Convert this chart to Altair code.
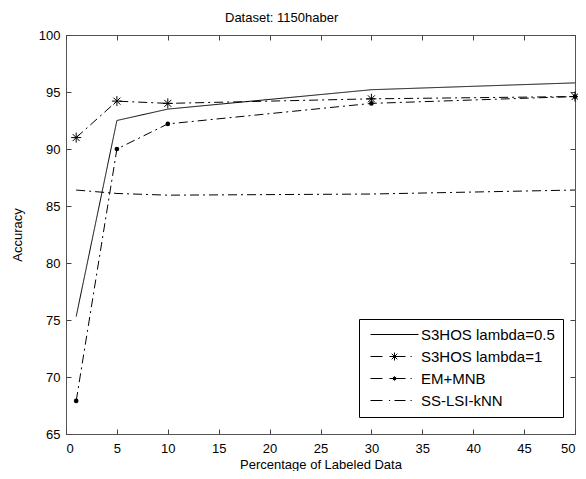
import altair as alt
import pandas as pd

# ---- data ----
x_vals = [1, 5, 10, 30, 50]
s3hos_05 = [75.3, 92.5, 93.5, 95.2, 95.8]
s3hos_1 = [91.0, 94.2, 94.0, 94.4, 94.6]
em_mnb = [67.9, 90.0, 92.2, 94.0, 94.6]
ss_lsi = [86.4, 86.1, 85.95, 86.05, 86.4]
series = ["S3HOS lambda=0.5", "S3HOS lambda=1", "EM+MNB", "SS-LSI-kNN"]
x_ticks = list(range(0, 51, 5))
y_ticks = list(range(65, 101, 5))

rows = []
for name, vals in zip(series, [s3hos_05, s3hos_1, em_mnb, ss_lsi]):
    for xv, yv in zip(x_vals, vals):
        rows.append({"x": xv, "acc": yv, "series": name})
df = pd.DataFrame(rows)

FONT = "Liberation Sans"
DASHDOT = [9, 4, 2, 4]
STAR = "M-1,0H1M0,-1V1M-0.7,-0.7L0.7,0.7M-0.7,0.7L0.7,-0.7"

# legend glyphs (line + marker), in symbol units (1 unit = 4px at size 64)
leg_solid = "M-1,0H11"
leg_star = "M-1,0H2M3.75,0H7.75M9,0H9.3M4,0H6M5,-1V1M4.3,-0.7L5.7,0.7M4.3,0.7L5.7,-0.7"
leg_dot = ("M-1,0H2M3.75,0H7.75M9,0H9.3"
           "M4.45,0H5.55M5,-0.55V0.55M4.6,-0.4L5.4,0.4M4.6,0.4L5.4,-0.4")
leg_dd = "M-1,0H2M3.6,0H3.9M5,0H7.75M9,0H9.3"
legend_shapes = [leg_solid, leg_star, leg_dot, leg_dd]

# dash scale uses reversed order so it is kept apart from the legend's scale
dash_domain = series[::-1]
dash_range = [DASHDOT, DASHDOT, DASHDOT, [1, 0]]

xscale = alt.Scale(domain=[0, 50], nice=False)
yscale = alt.Scale(domain=[65, 100], nice=False)

x_axis = alt.Axis(values=x_ticks, title="Percentage of Labeled Data", offset=-5,
                  tickSize=5, domain=False, labelPadding=8, titlePadding=3,
                  orient="bottom")
y_axis = alt.Axis(values=y_ticks, title="Accuracy", offset=-5, tickSize=5,
                  domain=False, labelPadding=6, titlePadding=14, orient="left")

base = alt.Chart(df)

lines = base.mark_line(color="black", strokeWidth=1).encode(
    x=alt.X("x:Q", scale=xscale, axis=x_axis),
    y=alt.Y("acc:Q", scale=yscale, axis=y_axis),
    strokeDash=alt.StrokeDash("series:N", scale=alt.Scale(domain=dash_domain, range=dash_range), legend=None),
    detail="series:N",
)

stars = base.transform_filter(alt.datum.series == "S3HOS lambda=1").mark_point(
    shape=STAR, size=100, color="black", filled=False, strokeWidth=1, opacity=1
).encode(
    x=alt.X("x:Q", scale=xscale, axis=None),
    y=alt.Y("acc:Q", scale=yscale, axis=None),
)

dots = base.transform_filter(alt.datum.series == "EM+MNB").mark_point(
    shape="circle", size=22, color="black", filled=True, opacity=1
).encode(
    x=alt.X("x:Q", scale=xscale,
            axis=alt.Axis(values=x_ticks, orient="top", labels=False, title=None,
                          offset=-5, tickSize=5, domain=False)),
    y=alt.Y("acc:Q", scale=yscale,
            axis=alt.Axis(values=y_ticks, orient="right", labels=False, title=None,
                          offset=-5, tickSize=5, domain=False)),
)

legend_layer = base.transform_filter("false").mark_point(
    size=64, filled=False, color="black", strokeWidth=1, opacity=1
).encode(
    x=alt.X("x:Q", scale=xscale, axis=None),
    y=alt.Y("acc:Q", scale=yscale, axis=None),
    shape=alt.Shape("series:N", scale=alt.Scale(domain=series, range=legend_shapes),
                    legend=alt.Legend(title=None, orient="none", legendX=293, legendY=284,
                                      padding=8, strokeColor="black", fillColor="white",
                                      cornerRadius=0, labelFontSize=15, labelFont=FONT,
                                      labelColor="black", labelOffset=39, rowPadding=6,
                                      labelExpr="datum.label + '\u00a0\u00a0\u00a0\u00a0'",
                                      symbolSize=64, symbolStrokeWidth=1,
                                      symbolStrokeColor="black")),
)

chart = alt.layer(lines, stars, dots, legend_layer).resolve_axis(
    x="independent", y="independent"
).properties(
    width=509, height=399,
    title=alt.TitleParams("Dataset: 1150haber", anchor="start", frame="group", dx=159,
                          offset=4, fontSize=13, font=FONT, fontWeight="normal",
                          color="black"),
    padding={"left": 58, "top": 27, "right": 3, "bottom": 37},
    autosize=alt.AutoSizeParams(type="none"),
).configure_view(stroke="#555", strokeWidth=1).configure_axis(
    labelFont=FONT, titleFont=FONT, labelFontSize=13, titleFontSize=13,
    titleFontWeight="normal", labelColor="black", titleColor="black",
    tickColor="#444", grid=False,
)

chart.save("out.html", embed_options={"renderer": "svg", "actions": False})
